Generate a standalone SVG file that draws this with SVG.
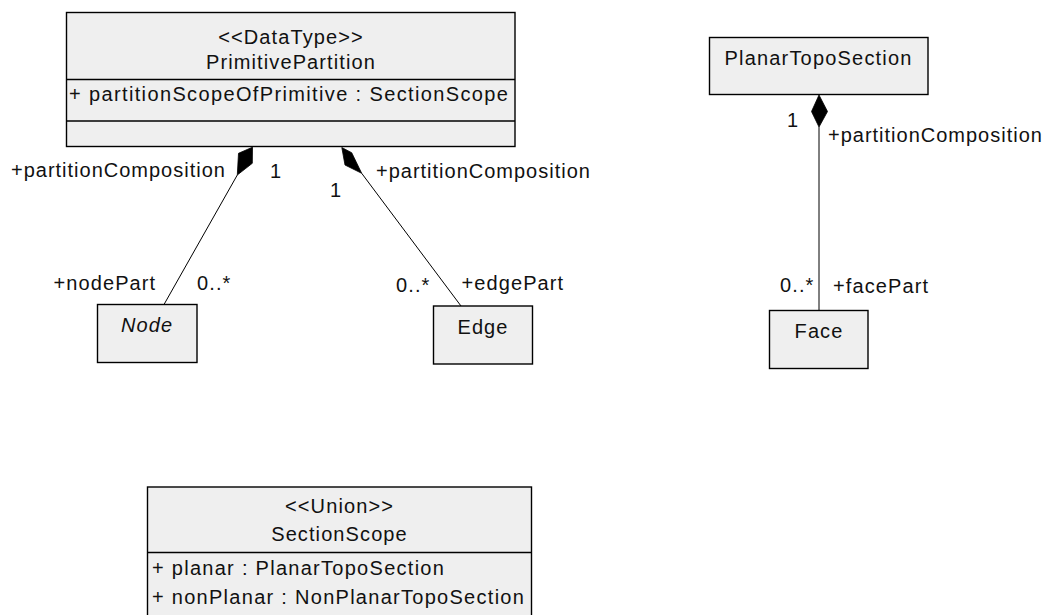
<svg xmlns="http://www.w3.org/2000/svg" width="1049" height="615" viewBox="0 0 1049 615">
<style>
.box{fill:#efefef;stroke:#000;stroke-width:1.4}
.div{stroke:#000;stroke-width:1.4}
.t{font-family:"Liberation Sans",Arial,sans-serif;font-size:20px;fill:#111;letter-spacing:1.1px}
.c{text-anchor:middle}
.i{font-style:italic}
.ln{stroke:#000;stroke-width:1;fill:none}
.dm{fill:#000;stroke:#000;stroke-width:0.8}
</style>
<rect width="1049" height="615" fill="#fff"/>
<g id="PrimitivePartition">
<rect class="box" x="66.5" y="12.5" width="448.5" height="134"/>
<line class="div" x1="66.5" y1="79.5" x2="515" y2="79.5"/>
<line class="div" x1="66.5" y1="121" x2="515" y2="121"/>
<text class="t c" x="291" y="43.5">&lt;&lt;DataType&gt;&gt;</text>
<text class="t c" x="291" y="68.5">PrimitivePartition</text>
<text class="t" x="69" y="100.5" textLength="440" lengthAdjust="spacing">+ partitionScopeOfPrimitive : SectionScope</text>
</g>
<g id="Node">
<rect class="box" x="97.5" y="304.5" width="99.5" height="58"/>
<text class="t c i" x="147" y="332">Node</text>
</g>
<g id="Edge">
<rect class="box" x="433.5" y="306" width="99" height="58"/>
<text class="t c" x="483" y="334">Edge</text>
</g>
<g id="PlanarTopoSection">
<rect class="box" x="709.5" y="37.5" width="218.5" height="57"/>
<text class="t c" x="818.5" y="65" textLength="188" lengthAdjust="spacing">PlanarTopoSection</text>
</g>
<g id="Face">
<rect class="box" x="769.5" y="310.5" width="98.5" height="58"/>
<text class="t c" x="819" y="338">Face</text>
</g>
<g id="SectionScope">
<rect class="box" x="147.5" y="487" width="384" height="160"/>
<line class="div" x1="147.5" y1="552.5" x2="531.5" y2="552.5"/>
<text class="t c" x="339.5" y="513">&lt;&lt;Union&gt;&gt;</text>
<text class="t c" x="339.5" y="541">SectionScope</text>
<text class="t" x="152" y="575" textLength="293" lengthAdjust="spacing">+ planar : PlanarTopoSection</text>
<text class="t" x="152" y="604" textLength="373" lengthAdjust="spacing">+ nonPlanar : NonPlanarTopoSection</text>
</g>
<g id="connectors">
<line class="ln" x1="237.3" y1="175" x2="164" y2="304.5"/>
<polygon class="dm" points="252.5,147.2 238.5,153.3 237.3,175 252.3,163.3"/>
<line class="ln" x1="361.7" y1="173.3" x2="461" y2="306"/>
<polygon class="dm" points="341.8,147.5 351.7,152.7 361.7,173.3 345,165"/>
<line class="ln" x1="819" y1="127" x2="819" y2="310.5"/>
<polygon class="dm" points="819,95 811.5,111.5 819,127 827.5,111.5"/>
<text class="t" x="11" y="176.5" textLength="215" lengthAdjust="spacing">+partitionComposition</text>
<text class="t" x="270" y="178">1</text>
<text class="t" x="330" y="197">1</text>
<text class="t" x="376" y="178" textLength="215" lengthAdjust="spacing">+partitionComposition</text>
<text class="t" x="53.5" y="289.5">+nodePart</text>
<text class="t" x="197" y="289.5">0..*</text>
<text class="t" x="396" y="291.5">0..*</text>
<text class="t" x="461.5" y="289.5">+edgePart</text>
<text class="t" x="787" y="126.5">1</text>
<text class="t" x="828" y="141.5" textLength="215" lengthAdjust="spacing">+partitionComposition</text>
<text class="t" x="780" y="291.5">0..*</text>
<text class="t" x="833" y="293">+facePart</text>
</g>
</svg>
